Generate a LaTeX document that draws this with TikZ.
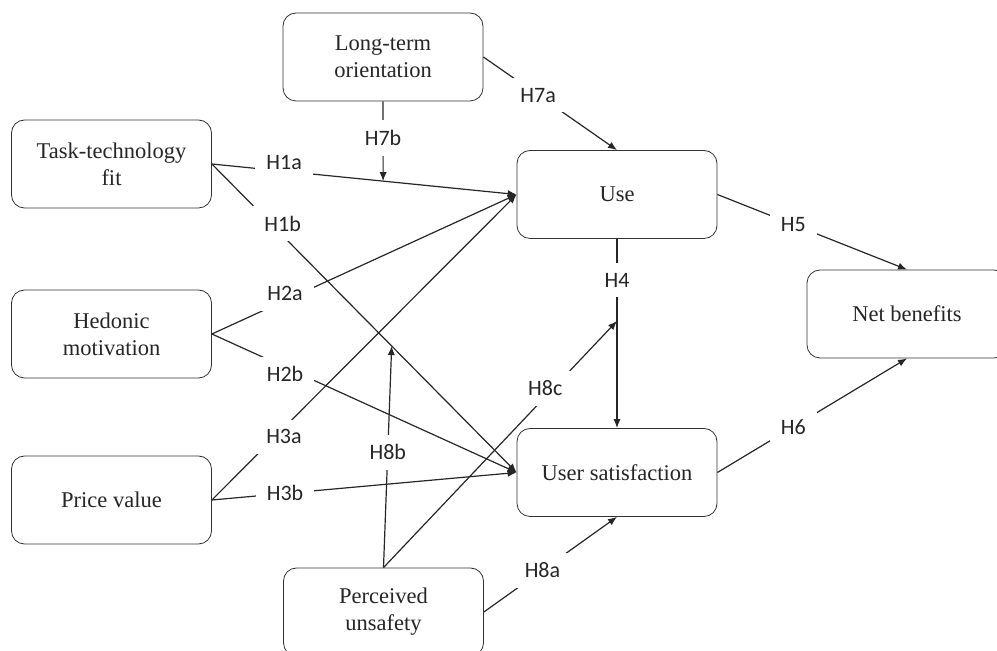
\documentclass[tikz,border=0pt]{standalone}
\usepackage{fontspec}
\setmainfont{Liberation Serif}
\newfontfamily\boxfont{Liberation Serif}
\newfontfamily\hypfont{Carlito}
\usetikzlibrary{arrows.meta,positioning,calc}
\tikzset{
block/.style = {draw=black!80, fill=white, rectangle, rounded corners=6.5pt, minimum height=44pt, minimum width=100pt, align=center, font=\boxfont\fontsize{11.25}{13.4}\selectfont, text=black!85},
hyp/.style  = {fill=white, inner xsep=5.5pt, inner ysep=5pt, font=\hypfont\fontsize{11}{13}\selectfont, text=black!85},
tmp/.style  = {coordinate},
link/.style = {draw=black!85, line width=0.6pt}
}

\begin{document}
\begin{tikzpicture}[x=0.5pt, y=-0.5pt, >={Latex[length=4.5pt,width=3.6pt]}]
  \useasboundingbox (0,0) rectangle (997,651);

  % constructs
  \node [block] (lto)  at (383,57)    {Long-term\\orientation};
  \node [block] (ttf)  at (111.5,164) {Task-technology\\fit};
  \node [block] (hm)   at (111.5,334) {Hedonic\\motivation};
  \node [block] (pv)   at (111.5,500) {Price value};
  \node [block] (use)  at (617,194.5) {Use};
  \node [block] (usat) at (617,472.5) {User satisfaction};
  \node [block] (net)  at (907,314)   {Net benefits};
  \node [block] (pu)   at (383.5,612) {Perceived\\unsafety};

  % points where moderators meet a path
  \coordinate (mod1) at ($(ttf.east)!0.562!(use.west)$);
  \coordinate (mod2) at ($(ttf.east)!0.59!(usat.west)$);
  \coordinate (mod3) at ($(use.south)!0.434!(usat.north)$);

  \draw [link,->] (ttf.east) -- node[hyp, pos=0.237, yshift=4.5pt] {H1a} (use.west);
  \draw [link,->] (ttf.east) -- node[hyp, pos=0.193, xshift=6pt] {H1b} (usat.west);
  \draw [link,->] (hm.east) -- node[hyp, pos=0.24, yshift=3.5pt] {H2a} (use.west);
  \draw [link,->] (hm.east) -- node[hyp, pos=0.24, yshift=-3.5pt] {H2b} (usat.west);
  \draw [link,->] (pv.east) -- node[hyp, pos=0.207, xshift=4.5pt] {H3a} (use.west);
  \draw [link,->] (pv.east) -- node[hyp, pos=0.24] {H3b} (usat.west);
  \draw [link,->] (use.south) -- node[hyp, pos=0.217] {H4} (usat.north);
  \draw [link,->] (use.east) -- node[hyp, pos=0.40] {H5} (net.north);
  \draw [link,->] (usat.east) -- node[hyp, pos=0.40] {H6} (net.south);
  \draw [link,->] (lto.east) -- node[hyp, pos=0.41] {H7a} (use.north);
  \draw [link,->] (lto.south) -- node[hyp, pos=0.46] {H7b} (mod1);
  \draw [link,->] (pu.east) -- node[hyp, pos=0.44] {H8a} (usat.south);
  \draw [link,->] (pu.north) -- node[hyp, pos=0.52] {H8b} (mod2);
  \draw [link,->] (pu.north) -- node[hyp, pos=0.727, xshift=-4pt] {H8c} (mod3);
\end{tikzpicture}
\end{document}
